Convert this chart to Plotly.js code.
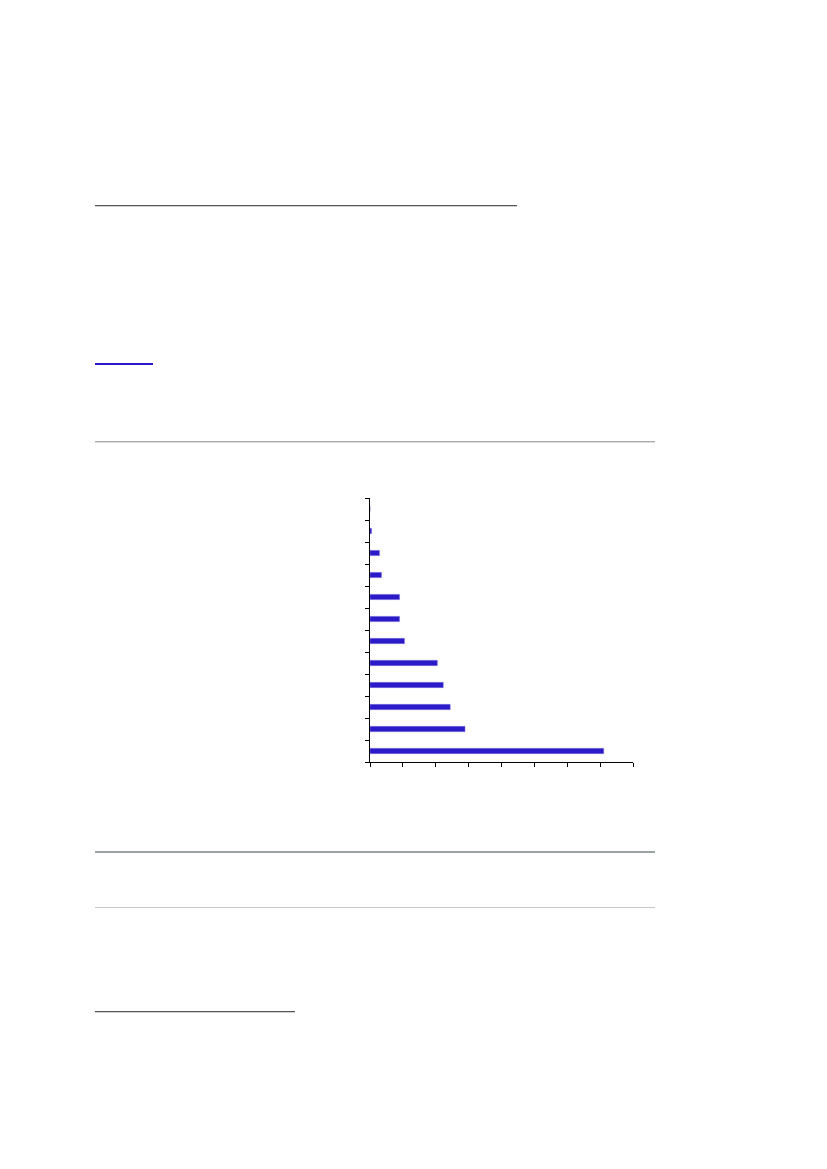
<!DOCTYPE html>
<html>
<head>
<meta charset="utf-8">
<script src="https://cdn.plot.ly/plotly-3.0.1.min.js"></script>
<style>
  html, body { margin: 0; padding: 0; background: #fff; }
  #page { position: relative; width: 827px; height: 1169px; overflow: hidden; }
  #chart { position: absolute; left: 0; top: 0; width: 827px; height: 1169px; }
  .rule { position: absolute; }
</style>
</head>
<body>
<div id="page">
  <div id="chart"></div>
  <div class="rule" style="left:95px; top:205px; width:422px; height:1px; background:#555; border-bottom:1px solid #d0d0d0;"></div>
  <div class="rule" style="left:95px; top:363px; width:58px; height:2px; background:#2a1acb;"></div>
  <div class="rule" style="left:95px; top:441px; width:560px; height:1px; background:#a8acac; border-bottom:1px solid #dcdcdc;"></div>
  <div class="rule" style="left:95px; top:851px; width:560px; height:2px; background:#9aa4a4;"></div>
  <div class="rule" style="left:95px; top:907px; width:560px; height:1px; background:#c4c8c8;"></div>
  <div class="rule" style="left:95px; top:1011px; width:200px; height:1px; background:#555; border-bottom:1px solid #d0d0d0;"></div>
</div>
<script>
// Categories from bottom to top (no labels are shown in the reference)
const categories = ["1", "2", "3", "4", "5", "6", "7", "8", "9", "10", "11", "12"];
const values = [71.1, 28.9, 24.4, 22.3, 20.5, 10.5, 9.0, 9.0, 3.5, 2.9, 0.5, 0];

const trace = {
  type: "bar",
  orientation: "h",
  y: categories,
  x: values,
  width: 0.24,
  marker: { color: "rgb(42,26,200)", line: { color: "rgba(130,120,225,0.8)", width: 0.6 } },
  hoverinfo: "none"
};

const layout = {
  width: 827,
  height: 1169,
  margin: { l: 370, r: 194, t: 498, b: 407, pad: 0 },
  paper_bgcolor: "rgba(0,0,0,0)",
  plot_bgcolor: "rgba(0,0,0,0)",
  showlegend: false,
  bargap: 0.76,
  xaxis: {
    range: [0, 80],
    dtick: 10,
    tick0: 0,
    ticks: "outside",
    ticklen: 4,
    tickcolor: "#000",
    tickwidth: 1,
    showline: true,
    linecolor: "#000",
    linewidth: 1,
    showgrid: false,
    zeroline: false,
    showticklabels: false,
    fixedrange: true
  },
  yaxis: {
    type: "category",
    range: [-0.5, 11.5],
    tickson: "boundaries",
    ticks: "outside",
    ticklen: 4,
    tickcolor: "#000",
    tickwidth: 1,
    showline: true,
    linecolor: "#000",
    linewidth: 1,
    showgrid: false,
    zeroline: false,
    showticklabels: false,
    fixedrange: true
  }
};

Plotly.newPlot("chart", [trace], layout, { staticPlot: true, displayModeBar: false });
</script>
</body>
</html>
